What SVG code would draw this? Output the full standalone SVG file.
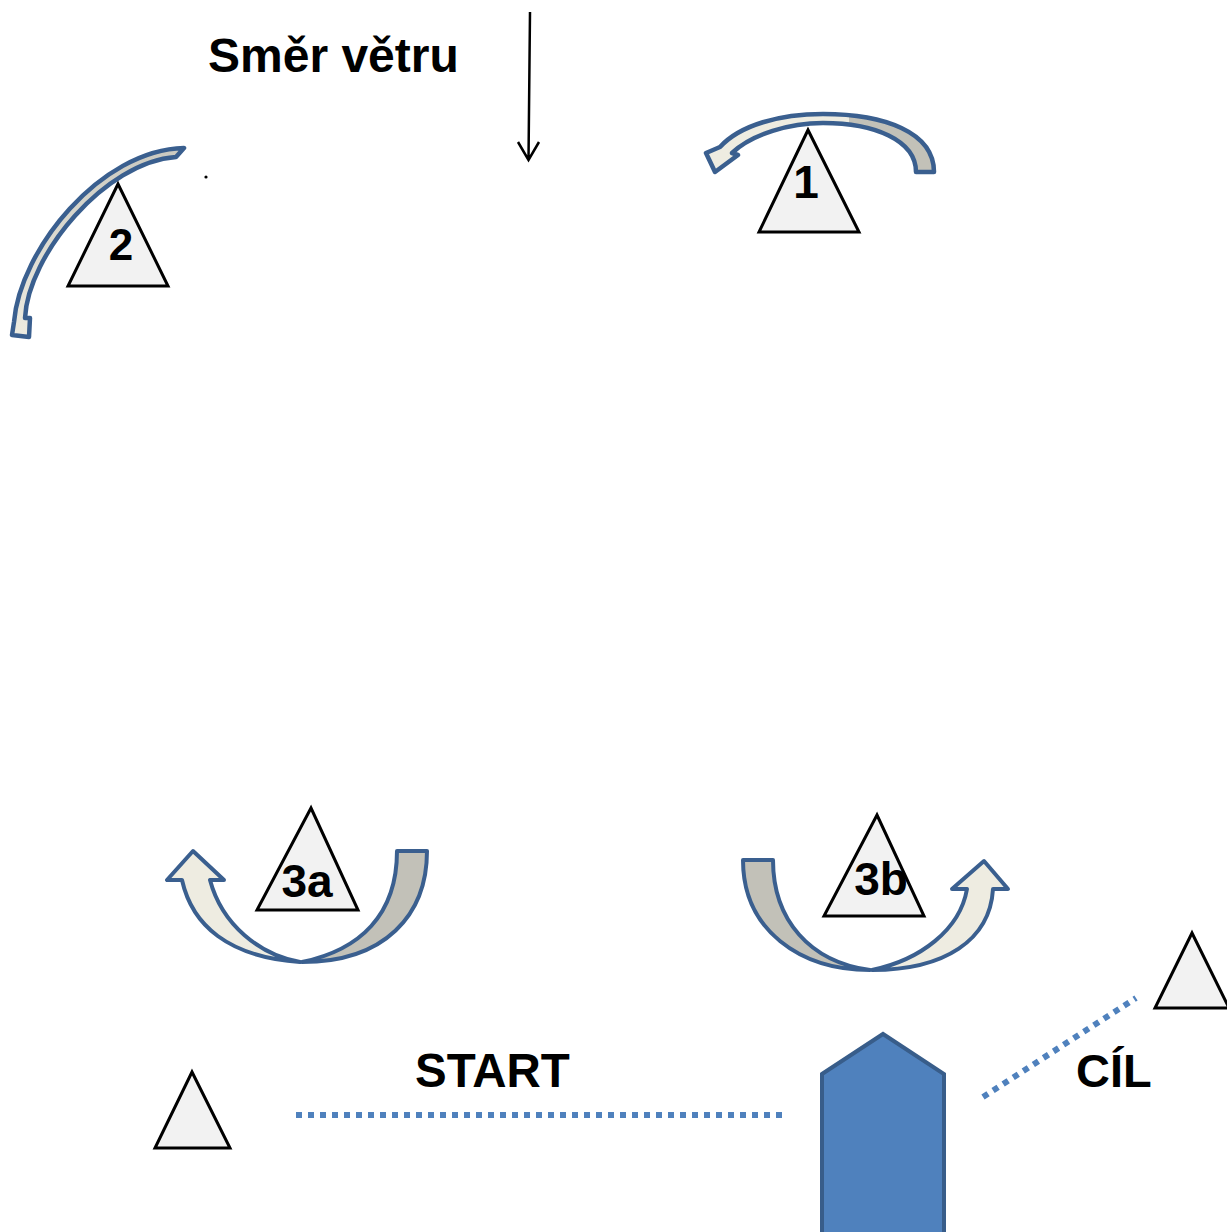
<svg xmlns="http://www.w3.org/2000/svg" width="1227" height="1232" viewBox="0 0 1227 1232">
<style>
.tri{fill:#f2f2f2;stroke:#000;stroke-width:3;stroke-linejoin:miter}
.lbl{font-family:"Liberation Sans",Arial,sans-serif;font-weight:bold;fill:#000}
.arr{stroke:#3a5f8f;stroke-width:4;stroke-linejoin:round}
.thin{stroke-width:4.5}
.light{fill:#eeece1}
.dark{fill:#c2c1b8}
.dot{fill:none;stroke:#4f81bd;stroke-width:6;stroke-dasharray:6 6}
</style>
<defs>
<linearGradient id="g1" gradientUnits="userSpaceOnUse" x1="700" y1="0" x2="940" y2="0">
<stop offset="0" stop-color="#eeece1"/><stop offset="0.62" stop-color="#eeece1"/><stop offset="0.62" stop-color="#c2c1b8"/><stop offset="1" stop-color="#c2c1b8"/>
</linearGradient>
<linearGradient id="g2" gradientUnits="userSpaceOnUse" x1="0" y1="140" x2="0" y2="340">
<stop offset="0" stop-color="#c9c8bf"/><stop offset="1" stop-color="#eeece1"/>
</linearGradient>
</defs>

<g id="wind">
<text class="lbl" x="208" y="72" font-size="48">Směr větru</text>
<path d="M530,12 L528.5,160 M518,142 L528.5,160 L539,142" fill="none" stroke="#000" stroke-width="2.5"/>
</g>

<g id="connectors">
<line class="dot" x1="296" y1="1115" x2="784" y2="1115"/>
<line class="dot" x1="983" y1="1097" x2="1136" y2="998"/>
</g>

<g id="mark1">
<path class="arr thin" fill="url(#g1)" d="M934,172 C934,132 884,114 823,114 C780,114 740,125 720,147 L706,153 L715,172 L738,155 L732,153 C752,134 790,123 823,123 C874,123 916,140 916,172 Z"/>
<polygon class="tri" points="808,130 759,232 859,232"/>
<text class="lbl" x="806" y="198" font-size="46" text-anchor="middle">1</text>
</g>

<g id="mark2">
<path class="arr thin" fill="url(#g2)" d="M184,148 C100,150 20,250 14,322 L12,335 L29,337 L30,318 L25,318 C28,255 105,162 176,157 Z"/>
<polygon class="tri" points="118,184 68,286 168,286"/>
<text class="lbl" x="121" y="260" font-size="44" text-anchor="middle">2</text>
<circle cx="206" cy="177" r="1.6" fill="#000"/>
</g>

<g id="mark3a">
<path class="arr light" d="M182,880 C192,925 228,957 300,962 C260,955 222,925 210,880 L224,880 L193,851 L167,880 Z"/>
<path class="arr dark" d="M397,851 L427,851 C427,915 385,962 302,962 C360,950 397,915 397,851 Z"/>
<polygon class="tri" points="311,808 257,910 358,910"/>
<text class="lbl" x="307" y="897" font-size="46" text-anchor="middle">3a</text>
</g>

<g id="mark3b">
<path class="arr dark" d="M743,860 L773,860 C773,920 810,962 870,970 C800,970 743,930 743,860 Z"/>
<path class="arr light" d="M993,889 C990,940 945,970 872,970 C920,960 960,930 967,889 L952,889 L984,861 L1008,889 Z"/>
<polygon class="tri" points="877,815 824,916 924,916"/>
<text class="lbl" x="881" y="895" font-size="46" text-anchor="middle">3b</text>
</g>

<g id="startbuoy">
<polygon class="tri" points="192,1072 155,1148 230,1148"/>
</g>

<g id="finishbuoy">
<polygon class="tri" points="1192,933 1155,1008 1229,1008"/>
</g>

<g id="boat">
<polygon points="822,1074 883,1034 944,1074 944,1234 822,1234" fill="#4f81bd" stroke="#385d8a" stroke-width="4"/>
</g>

<g id="labels">
<text class="lbl" x="415" y="1087" font-size="47.5">START</text>
<text class="lbl" x="1076" y="1087" font-size="47">CÍL</text>
</g>
</svg>
